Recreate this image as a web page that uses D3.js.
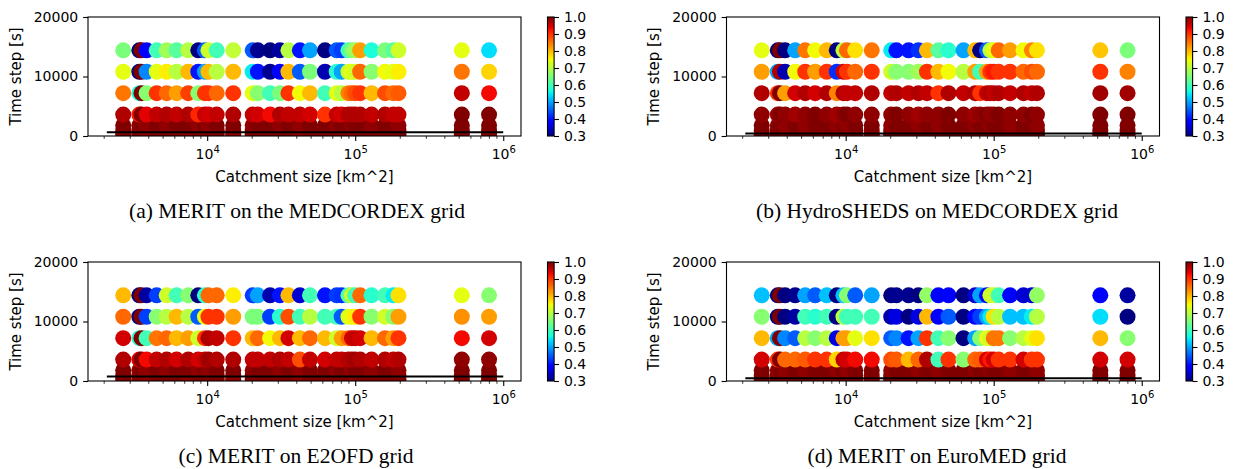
<!DOCTYPE html>
<html>
<head>
<meta charset="utf-8">
<script src="https://cdn.jsdelivr.net/npm/d3@7"></script>
<style>
  body { margin: 0; background: #fff; }
  text { font-family: "DejaVu Sans", sans-serif; }
</style>
</head>
<body>
<svg id="fig" width="1235" height="469"></svg>
<script>
'use strict'

// catchment sizes [km^2], one entry per basin
const catchmentSize = [2710, 3480, 3600, 3900, 4560, 5330, 6220, 7450, 8710, 9660, 10200, 11600, 15000,
  20300, 22000, 26600, 31000, 35400, 42300, 49500, 62500, 75000, 81000, 90000, 95000, 100000, 108000,
  129000, 159000, 181000, 196000, 525000, 802000]

const timeSteps = [300, 900, 1800, 3600, 7200, 10800, 14400]
const yTicks = [0, 10000, 20000]
const xMajorTicks = [1e4, 1e5, 1e6]
const colorTicks = [0.3, 0.4, 0.5, 0.6, 0.7, 0.8, 0.9, 1.0]

// lowest time steps, same in every panel (all close to 1)
const lowRow300 = [1.00,1.00,1.00,1.00,1.00,1.00,1.00,1.00,1.00,1.00,1.00,1.00,1.00,1.00,1.00,1.00,1.00,1.00,1.00,1.00,1.00,1.00,1.00,1.00,1.00,1.00,1.00,1.00,1.00,1.00,1.00,1.00,1.00]
const lowRow900 = [1.00,1.00,1.00,0.99,1.00,1.00,1.00,0.99,1.00,1.00,1.00,1.00,0.99,1.00,1.00,1.00,1.00,1.00,0.99,1.00,1.00,1.00,1.00,1.00,1.00,0.99,1.00,1.00,1.00,1.00,1.00,1.00,1.00]
const lowRow1800 = [1.00,0.99,1.00,0.99,1.00,0.99,1.00,1.00,0.99,1.00,0.99,1.00,1.00,0.99,1.00,1.00,0.99,1.00,0.99,1.00,1.00,0.99,1.00,1.00,0.99,1.00,1.00,0.99,1.00,1.00,0.99,1.00,1.00]

// (a) MERIT on MEDCORDEX
const aRow3600 = [0.97,0.92,1.00,0.94,0.96,0.97,0.96,0.97,0.91,0.96,0.95,0.96,0.97,0.96,0.95,0.93,0.97,0.96,0.96,0.95,0.90,0.96,0.95,0.97,0.97,0.97,0.97,0.96,0.97,0.96,0.96,1.00,1.00]
const aRow7200 = [0.85,0.57,1.00,0.66,0.90,0.86,0.82,0.89,0.66,0.90,0.90,0.86,0.90,0.74,0.66,0.60,0.65,0.90,0.75,0.80,0.60,0.74,0.70,0.84,0.86,0.88,0.90,0.80,0.88,0.86,0.87,0.96,0.93]
const aRow10800 = [0.74,0.30,1.00,0.48,0.74,0.76,0.70,0.80,0.40,0.50,0.80,0.70,0.80,0.55,0.40,0.31,0.38,0.80,0.45,0.65,0.33,0.58,0.50,0.72,0.74,0.72,0.86,0.66,0.75,0.74,0.76,0.85,0.78]
const aRow14400 = [0.65,0.30,1.00,0.38,0.60,0.68,0.62,0.70,0.30,0.45,0.72,0.60,0.71,0.45,0.31,0.30,0.32,0.70,0.40,0.50,0.30,0.45,0.43,0.60,0.65,0.68,0.82,0.57,0.65,0.62,0.72,0.74,0.54]

// (b) HydroSHEDS on MEDCORDEX
const bRow3600 = [0.99,0.98,1.00,0.99,0.98,0.99,1.00,0.99,0.98,0.99,1.00,0.99,0.99,0.99,1.00,0.99,0.98,0.99,0.99,1.00,0.99,0.98,0.99,1.00,0.99,0.99,1.00,0.99,0.99,1.00,0.99,1.00,1.00]
const bRow7200 = [0.97,0.90,1.00,0.82,0.95,0.97,0.95,0.97,0.84,0.97,0.96,0.96,0.97,0.96,0.97,0.96,0.97,0.96,0.90,0.97,0.96,0.97,0.90,0.96,0.97,0.96,0.97,0.96,0.97,0.96,0.97,0.98,0.98]
const bRow10800 = [0.82,0.50,0.97,0.33,0.75,0.90,0.82,0.90,0.42,0.95,0.90,0.86,0.90,0.72,0.66,0.66,0.68,0.90,0.80,0.75,0.70,0.82,0.60,0.82,0.90,0.92,0.90,0.90,0.86,0.88,0.86,0.90,0.84]
const bRow14400 = [0.74,0.30,1.00,0.30,0.50,0.85,0.75,0.80,0.30,0.70,0.86,0.77,0.85,0.55,0.40,0.40,0.42,0.80,0.62,0.58,0.50,0.80,0.30,0.45,0.70,0.74,0.86,0.82,0.75,0.84,0.77,0.79,0.65]

// (c) MERIT on E2OFD
const cRow3600 = [0.97,0.94,1.00,0.93,0.96,0.97,0.95,0.97,0.95,0.96,0.98,0.97,0.97,0.96,0.96,0.96,0.97,0.96,0.88,0.96,0.95,0.96,0.96,0.97,0.97,0.98,0.97,0.96,0.97,0.96,0.97,0.99,0.99]
const cRow7200 = [0.95,0.58,1.00,0.60,0.85,0.86,0.80,0.82,0.72,0.90,0.97,0.96,0.90,0.80,0.86,0.75,0.80,0.95,0.80,0.86,0.80,0.72,0.82,0.86,0.95,0.96,0.95,0.80,0.86,0.82,0.90,0.93,0.95]
const cRow10800 = [0.86,0.30,1.00,0.43,0.66,0.70,0.80,0.70,0.45,0.74,0.90,0.90,0.82,0.65,0.65,0.43,0.58,0.88,0.60,0.70,0.60,0.60,0.45,0.74,0.74,0.76,0.90,0.66,0.72,0.66,0.82,0.83,0.82]
const cRow14400 = [0.80,0.30,1.00,0.32,0.43,0.72,0.60,0.66,0.30,0.58,0.86,0.86,0.76,0.43,0.50,0.33,0.40,0.80,0.35,0.60,0.40,0.43,0.42,0.62,0.72,0.60,0.86,0.58,0.60,0.55,0.77,0.74,0.66]

// (d) MERIT on EuroMED
const dRow3600 = [0.95,0.90,1.00,0.86,0.86,0.87,0.90,0.90,0.78,0.96,0.95,0.93,0.93,0.88,0.87,0.80,0.86,0.97,0.60,0.90,0.66,0.86,0.87,0.95,0.92,0.95,0.90,0.90,0.95,0.90,0.90,0.95,0.95]
const dRow7200 = [0.80,0.50,1.00,0.48,0.45,0.70,0.66,0.70,0.36,0.82,0.82,0.74,0.77,0.45,0.48,0.40,0.50,0.90,0.60,0.66,0.30,0.50,0.66,0.74,0.72,0.85,0.85,0.66,0.70,0.74,0.77,0.80,0.66]
const dRow10800 = [0.66,0.30,1.00,0.30,0.32,0.60,0.58,0.60,0.30,0.70,0.60,0.60,0.60,0.33,0.36,0.30,0.36,0.80,0.38,0.45,0.30,0.38,0.43,0.50,0.55,0.77,0.70,0.52,0.52,0.55,0.70,0.54,0.30]
const dRow14400 = [0.52,0.30,1.00,0.30,0.31,0.50,0.45,0.52,0.30,0.52,0.66,0.45,0.50,0.30,0.31,0.31,0.30,0.67,0.38,0.38,0.30,0.35,0.50,0.38,0.72,0.72,0.60,0.38,0.35,0.35,0.67,0.38,0.32]

const captions = ['(a) MERIT on the MEDCORDEX grid', '(b) HydroSHEDS on MEDCORDEX grid',
  '(c) MERIT on E2OFD grid', '(d) MERIT on EuroMED grid']
const limitStep = [620, 400, 750, 450]   // black reference line per panel
const limitRange = [2100, 1e6]

const panels = [
  {rows: [lowRow300, lowRow900, lowRow1800, aRow3600, aRow7200, aRow10800, aRow14400], dx: 0, dy: 0, capX: 297},
  {rows: [lowRow300, lowRow900, lowRow1800, bRow3600, bRow7200, bRow10800, bRow14400], dx: 638.5, dy: 0, capX: 937},
  {rows: [lowRow300, lowRow900, lowRow1800, cRow3600, cRow7200, cRow10800, cRow14400], dx: 0, dy: 245, capX: 296},
  {rows: [lowRow300, lowRow900, lowRow1800, dRow3600, dRow7200, dRow10800, dRow14400], dx: 638.5, dy: 245, capX: 937}
]

// matplotlib jet
const jetR = d3.scaleLinear().domain([0, 0.35, 0.66, 0.89, 1]).range([0, 0, 1, 1, 0.5]).clamp(true)
const jetG = d3.scaleLinear().domain([0, 0.125, 0.375, 0.64, 0.91, 1]).range([0, 0, 1, 1, 0, 0]).clamp(true)
const jetB = d3.scaleLinear().domain([0, 0.11, 0.34, 0.65, 1]).range([0.5, 1, 1, 0, 0]).clamp(true)
const norm = d3.scaleLinear().domain([0.3, 1.0]).range([0, 1]).clamp(true)
const jet = (v) => {
  const t = norm(v)
  return d3.rgb(jetR(t) * 255, jetG(t) * 255, jetB(t) * 255).formatHex()
}

const W = 433, H = 119
const x = d3.scaleLog().domain([Math.pow(10, 3.195), Math.pow(10, 6.12)]).range([0, W])
const y = d3.scaleLinear().domain([0, 20000]).range([H, 0])
const cbar = d3.scaleLinear().domain([0.3, 1.0]).range([H, 0])

const minorTicks = []
;[1e3, 1e4, 1e5].forEach((dec) => {
  for (let m = 2; m <= 9; m++) {
    const v = m * dec
    if (v > x.domain()[0] && v < x.domain()[1]) minorTicks.push(v)
  }
})

const svg = d3.select('#fig')
const defs = svg.append('defs')
const grad = defs.append('linearGradient').attr('id', 'jetgrad')
  .attr('x1', 0).attr('y1', 1).attr('x2', 0).attr('y2', 0)
d3.range(0, 1.0001, 0.02).forEach((t) => {
  grad.append('stop').attr('offset', t).attr('stop-color', jet(0.3 + t * 0.7))
})

panels.forEach((p, k) => {
  defs.append('clipPath').attr('id', 'clip' + k)
    .append('rect').attr('width', W).attr('height', H)

  const g = svg.append('g').attr('transform', 'translate(' + [88 + p.dx, 17 + p.dy] + ')')

  // flatten rows, lowest time step first so higher rows sit on top
  const pts = []
  timeSteps.forEach((ts, r) => {
    p.rows[r].forEach((v, i) => pts.push({size: catchmentSize[i], step: ts, val: v}))
  })

  g.append('g').attr('clip-path', 'url(#clip' + k + ')')
    .selectAll('circle')
    .data(pts)
    .join('circle')
    .attr('cx', (d) => x(d.size))
    .attr('cy', (d) => y(d.step))
    .attr('r', 8)
    .attr('fill', (d) => jet(d.val))

  g.append('path')
    .datum(limitRange.map((s) => [s, limitStep[k]]))
    .attr('d', d3.line().x((d) => x(d[0])).y((d) => y(d[1])))
    .attr('stroke', '#000').attr('stroke-width', 2).attr('fill', 'none')

  g.append('rect').attr('width', W).attr('height', H)
    .attr('fill', 'none').attr('stroke', '#000').attr('stroke-width', 1.1)

  // x axis: minor then major ticks
  g.append('g').attr('transform', 'translate(0,' + H + ')')
    .call(d3.axisBottom(x).tickValues(minorTicks).tickSize(2.8).tickFormat(''))
    .call((a) => a.select('.domain').remove())
    .selectAll('line').attr('stroke-width', 0.8)

  const xa = g.append('g').attr('transform', 'translate(0,' + H + ')')
    .call(d3.axisBottom(x).tickValues(xMajorTicks).tickSize(4.9).tickFormat(''))
  xa.select('.domain').remove()
  xa.selectAll('line').attr('stroke-width', 1.1)
  xa.selectAll('.tick text')
    .attr('y', 23.3).attr('dy', null)
    .attr('font-size', 14).attr('fill', '#000')
    .each(function (d) {
      const t = d3.select(this)
      t.append('tspan').text('10')
      t.append('tspan').attr('dy', -6).attr('font-size', 10).text(Math.round(Math.log10(d)))
    })

  const ya = g.append('g')
    .call(d3.axisLeft(y).tickValues(yTicks).tickSize(4.9).tickPadding(4.9).tickFormat(d3.format('d')))
  ya.select('.domain').remove()
  ya.selectAll('line').attr('stroke-width', 1.1)
  ya.selectAll('text').attr('font-size', 14).attr('fill', '#000')

  g.append('text')
    .attr('x', W / 2).attr('y', 164.5)
    .attr('text-anchor', 'middle').attr('font-size', 15)
    .text('Catchment size [km^2]')

  g.append('text')
    .attr('transform', 'translate(-67.5,' + H / 2 + ') rotate(-90)')
    .attr('text-anchor', 'middle').attr('font-size', 15)
    .text('Time step [s]')

  // colorbar
  const cb = g.append('g').attr('transform', 'translate(459.5,0)')
  cb.append('rect').attr('width', 6.6).attr('height', H).attr('fill', 'url(#jetgrad)')
    .attr('stroke', '#000').attr('stroke-width', 1.1)
  const ca = cb.append('g').attr('transform', 'translate(6.6,0)')
    .call(d3.axisRight(cbar).tickValues(colorTicks).tickSize(4.9).tickPadding(4.9).tickFormat(d3.format('.1f')))
  ca.select('.domain').remove()
  ca.selectAll('line').attr('stroke-width', 1.1)
  ca.selectAll('text').attr('font-size', 14).attr('fill', '#000')

  svg.append('text')
    .attr('x', p.capX).attr('y', 218 + p.dy)
    .attr('text-anchor', 'middle')
    .style('font-family', '"Liberation Serif", "Times New Roman", serif')
    .attr('font-size', 21.5)
    .text(captions[k])
})
</script>
</body>
</html>
